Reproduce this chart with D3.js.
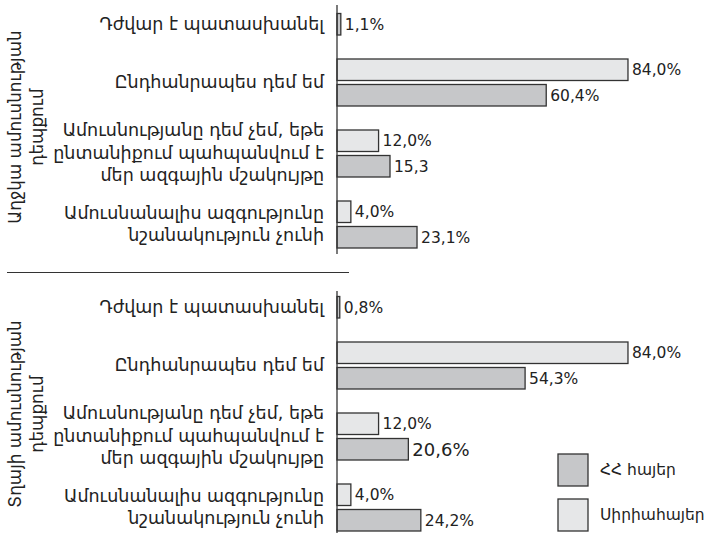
<!DOCTYPE html>
<html>
<head>
<meta charset="utf-8">
<script src="https://cdn.jsdelivr.net/npm/d3@7"></script>
<style>
  body { margin: 0; background: #fff; }
  svg { display: block; font-family: "DejaVu Sans", Verdana, sans-serif; }
</style>
</head>
<body>
<svg id="chart" width="716" height="533"></svg>
<script>
// categories (multi-line labels)
var categories = [
  ["Դժվար է պատասխանել"],
  ["Ընդհանրապես դեմ եմ"],
  ["Ամուսնությանը դեմ չեմ, եթե", "ընտանիքում պահպանվում է", "մեր ազգային մշակույթը"],
  ["Ամուսնանալիս ազգությունը", "նշանակություն չունի"]
];
var series = ["Սիրիահայեր", "ՀՀ հայեր"];

// top panel: daughter's marriage
var panelTitleTop = ["Աղջկա ամուսնության", "դեպքում"];
var syrianTop = [null, 84.0, 12.0, 4.0];
var armeniaTop = [1.1, 60.4, 15.3, 23.1];
var syrianTopLabels = ["", "84,0%", "12,0%", "4,0%"];
var armeniaTopLabels = ["1,1%", "60,4%", "15,3", "23,1%"];

// bottom panel: son's marriage
var panelTitleBottom = ["Տղայի ամուսնության", "դեպքում"];
var syrianBottom = [null, 84.0, 12.0, 4.0];
var armeniaBottom = [0.8, 54.3, 20.6, 24.2];
var syrianBottomLabels = ["", "84,0%", "12,0%", "4,0%"];
var armeniaBottomLabels = ["0,8%", "54,3%", "20,6%", "24,2%"];

var colors = {"Սիրիահայեր": "#e6e7e8", "ՀՀ հայեր": "#c6c7c9"};
var stroke = "#333";

var svg = d3.select("#chart");
var x = d3.scaleLinear().domain([0, 100]).range([337, 683.4]);

function drawPanel(cfg) {
  var g = svg.append("g");
  var keys = categories.map(function(c, i) { return "c" + i; });
  var y = d3.scaleBand().domain(keys).range(cfg.range);
  var ys = d3.scaleBand().domain(series)
    .range([y.bandwidth() / 2 - 23.5, y.bandwidth() / 2 + 23.5])
    .paddingInner(0.157);

  var rows = [];
  keys.forEach(function(k, i) {
    rows.push({key: k, s: "Սիրիահայեր", v: cfg.syrian[i], label: cfg.syrianLabels[i], big: false});
    rows.push({key: k, s: "ՀՀ հայեր", v: cfg.armenia[i], label: cfg.armeniaLabels[i], big: cfg.big === i});
  });
  rows = rows.filter(function(d) { return d.v != null; });

  g.selectAll("rect.bar")
    .data(rows)
    .enter().append("rect")
    .attr("class", "bar")
    .attr("x", x(0))
    .attr("y", function(d) { return y(d.key) + ys(d.s); })
    .attr("width", function(d) { return x(d.v) - x(0); })
    .attr("height", ys.bandwidth())
    .attr("fill", function(d) { return colors[d.s]; })
    .attr("stroke", stroke)
    .attr("stroke-width", 1.3);

  g.selectAll("text.val")
    .data(rows)
    .enter().append("text")
    .attr("class", "val")
    .attr("x", function(d) { return x(d.v) + 4; })
    .attr("y", function(d) { return y(d.key) + ys(d.s) + ys.bandwidth() / 2; })
    .attr("dy", "0.36em")
    .attr("font-size", function(d) { return d.big ? 18 : 15.5; })
    .attr("fill", "#222")
    .text(function(d) { return d.label; });

  // category labels, centred on the bars that are drawn
  keys.forEach(function(k, i) {
    var drawn = rows.filter(function(d) { return d.key === k; });
    var cy = d3.mean(drawn, function(d) { return y(k) + ys(d.s) + ys.bandwidth() / 2; });
    var lines = categories[i];
    var lh = 22.5;
    var t = g.append("text")
      .attr("text-anchor", "end")
      .attr("font-size", 17.5)
      .attr("fill", "#222");
    lines.forEach(function(line, j) {
      t.append("tspan")
        .attr("x", 324)
        .attr("y", cy + (j - (lines.length - 1) / 2) * lh)
        .attr("dy", "0.3em")
        .text(line);
    });
  });

  // vertical axis line
  g.append("line")
    .attr("x1", x(0)).attr("x2", x(0))
    .attr("y1", cfg.axis[0]).attr("y2", cfg.axis[1])
    .attr("stroke", stroke)
    .attr("stroke-width", 1.3);

  // rotated panel title
  var tt = g.append("text")
    .attr("transform", "translate(0," + cfg.titleY + ") rotate(-90)")
    .attr("text-anchor", "middle")
    .attr("font-size", 16.8)
    .attr("fill", "#222");
  cfg.title.forEach(function(line, j) {
    tt.append("tspan")
      .attr("x", 0)
      .attr("y", 21 + j * 22)
      .text(line);
  });
}

drawPanel({
  range: [-24, 260], axis: [5, 254], titleY: 127,
  title: panelTitleTop,
  syrian: syrianTop, armenia: armeniaTop,
  syrianLabels: syrianTopLabels, armeniaLabels: armeniaTopLabels
});

drawPanel({
  range: [259, 543], axis: [291, 533], titleY: 414,
  title: panelTitleBottom,
  syrian: syrianBottom, armenia: armeniaBottom,
  syrianLabels: syrianBottomLabels, armeniaLabels: armeniaBottomLabels,
  big: 2
});

// separator between panels
svg.append("line")
  .attr("x1", 7).attr("x2", 349)
  .attr("y1", 272.5).attr("y2", 272.5)
  .attr("stroke", stroke)
  .attr("stroke-width", 1);

// legend
var legendItems = ["ՀՀ հայեր", "Սիրիահայեր"];
var legend = svg.append("g").attr("transform", "translate(558,454)");
var li = legend.selectAll("g")
  .data(legendItems)
  .enter().append("g")
  .attr("transform", function(d, i) { return "translate(0," + i * 45 + ")"; });
li.append("rect")
  .attr("width", 30).attr("height", 32)
  .attr("fill", function(d) { return colors[d]; })
  .attr("stroke", stroke)
  .attr("stroke-width", 1.3);
li.append("text")
  .attr("x", 42).attr("y", 16)
  .attr("dy", "0.35em")
  .attr("font-size", 15.5)
  .attr("fill", "#222")
  .text(function(d) { return d; });
</script>
</body>
</html>
